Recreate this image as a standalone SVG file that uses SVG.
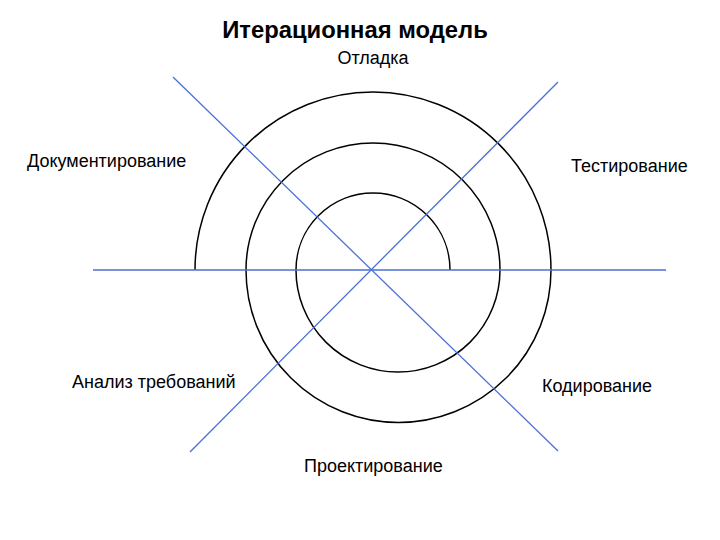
<svg xmlns="http://www.w3.org/2000/svg" width="720" height="540" viewBox="0 0 720 540">
<style>
.t{font-family:"Liberation Sans",Arial,sans-serif;font-size:18px;fill:#000}
.h{font-family:"Liberation Sans",Arial,sans-serif;font-size:23.8px;font-weight:bold;fill:#000}
.ax{stroke:#4a6fd6;stroke-width:1.3;fill:none}
.sp{stroke:#000;stroke-width:1.5;fill:none}
</style>
<rect width="720" height="540" fill="#fff"/>
<text class="h" x="355" y="38" text-anchor="middle">Итерационная модель</text>
<g id="spiral">
<path class="sp" d="M195,270 A178,178 0 0 1 551,270 A152.5,152.5 0 0 1 246,270 A127,127 0 0 1 500,270 A102,102 0 0 1 296,270 A77,77 0 0 1 450,270"/>
</g>
<g id="axes">
<line class="ax" x1="93" y1="270" x2="666" y2="270"/>
<line class="ax" x1="173" y1="77" x2="558" y2="451"/>
<line class="ax" x1="558" y1="82" x2="190" y2="452"/>
</g>
<g id="labels">
<g id="n-otladka"><text class="t" x="373" y="64" text-anchor="middle">Отладка</text></g>
<g id="n-doc"><text class="t" x="27" y="167">Документирование</text></g>
<g id="n-test"><text class="t" x="571" y="172">Тестирование</text></g>
<g id="n-anal"><text class="t" x="72" y="388">Анализ требований</text></g>
<g id="n-kod"><text class="t" x="542" y="392">Кодирование</text></g>
<g id="n-proj"><text class="t" x="304" y="472">Проектирование</text></g>
</g>
</svg>
